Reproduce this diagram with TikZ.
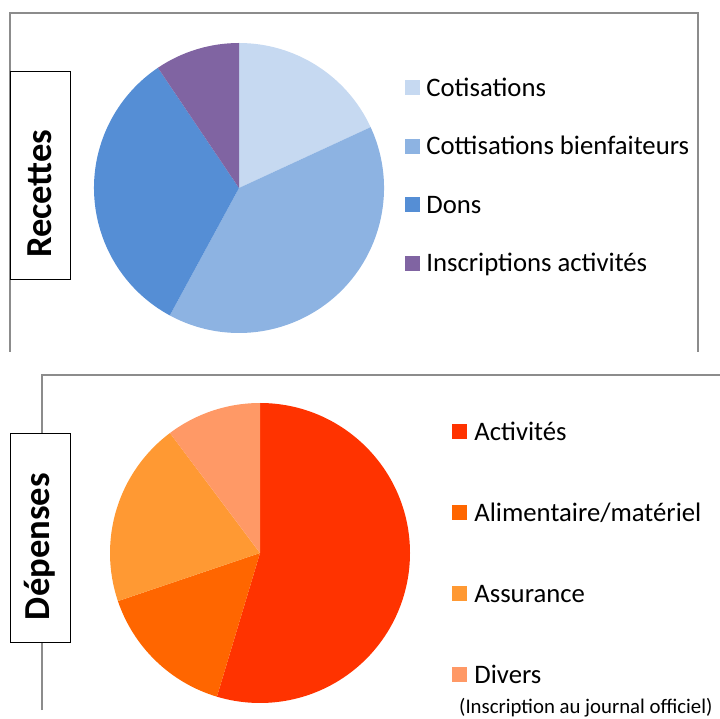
\documentclass[tikz,border=0pt]{standalone}
\usepackage{fontspec}
\setmainfont{Carlito}
\usetikzlibrary{positioning}

\definecolor{framegray}{HTML}{8C8C8C}
\definecolor{cctz}{HTML}{C6D9F1}
\definecolor{ccbf}{HTML}{8DB3E2}
\definecolor{cdns}{HTML}{558ED5}
\definecolor{cins}{HTML}{8064A2}
\definecolor{cact}{HTML}{FF3300}
\definecolor{cali}{HTML}{FF6600}
\definecolor{cass}{HTML}{FF9933}
\definecolor{cdiv}{HTML}{FF9966}

\begin{document}
\begin{tikzpicture} [
    x=1pt, y=1pt,
    node distance=43pt and 6pt, % legend spacing
    ]
% -------------------------------------------------
\tikzset{
  frame/.style={draw=framegray, line width=1.4pt},
  tag/.style={draw, fill=white, rotate=90, line width=1pt,
    inner xsep=22pt, inner ysep=0pt, text width=164pt, align=left,
    minimum height=60pt, font=\fontsize{36.6}{40}\selectfont\bfseries},
  key/.style={minimum size=15pt, inner sep=0pt},
  lbl/.style={inner sep=0pt, anchor=west, text height=17.2pt, text depth=0pt,
    font=\fontsize{26.7}{30}\selectfont}
}

    \useasboundingbox (0,0) rectangle (720,718);

    \draw[frame] (10,366) -- (10,705) -- (698,705) -- (698,366);   % top frame
    \draw[frame] (42,8) -- (42,343) -- (720,343);                  % bottom frame

    \node [tag] (rec) at (40,542) {Recettes};
    \node [tag] (dep) at (40,180) {Dépenses};

    % top pie
    \coordinate (tc) at (239,530);
    \fill[cctz] (tc) -- ++(90:145) arc[start angle=90, end angle=24.8, radius=145] -- cycle;
    \fill[ccbf] (tc) -- ++(24.8:145) arc[start angle=24.8, end angle=-118.5, radius=145] -- cycle;
    \fill[cdns] (tc) -- ++(-118.5:145) arc[start angle=-118.5, end angle=-236, radius=145] -- cycle;
    \fill[cins] (tc) -- ++(124:145) arc[start angle=124, end angle=90, radius=145] -- cycle;

    % bottom pie
    \coordinate (bc) at (260,165);
    \fill[cact] (bc) -- ++(90:150) arc[start angle=90, end angle=-106.7, radius=150] -- cycle;
    \fill[cali] (bc) -- ++(-106.7:150) arc[start angle=-106.7, end angle=-161.3, radius=150] -- cycle;
    \fill[cass] (bc) -- ++(198.7:150) arc[start angle=198.7, end angle=126.9, radius=150] -- cycle;
    \fill[cdiv] (bc) -- ++(126.9:150) arc[start angle=126.9, end angle=90, radius=150] -- cycle;

    % top legend
    \node [key, fill=cctz] (kctz) at (412.5,630) {};
    \node [key, fill=ccbf, below=of kctz] (kcbf) {};
    \node [key, fill=cdns, below=of kcbf] (kdns) {};
    \node [key, fill=cins, below=of kdns] (kins) {};
    \node [lbl, right=of kctz] (lctz) {Cotisations};
    \node [lbl, right=of kcbf] (lcbf) {Cottisations bienfaiteurs};
    \node [lbl, right=of kdns] (ldns) {Dons};
    \node [lbl, right=of kins] (lins) {Inscriptions activités};

    % bottom legend
    \node [key, fill=cact] (kact) at (459.5,286) {};
    \node [key, fill=cali, below=65.5pt of kact] (kali) {};
    \node [key, fill=cass, below=65.5pt of kali] (kass) {};
    \node [key, fill=cdiv, below=65.5pt of kass] (kdiv) {};
    \node [lbl, right=7pt of kact] (lact) {Activités};
    \node [lbl, right=7pt of kali] (lali) {Alimentaire/matériel};
    \node [lbl, right=7pt of kass] (lass) {Assurance};
    \node [lbl, right=7pt of kdiv] (ldiv) {Divers};
    \node [lbl, font=\fontsize{20.8}{24}\selectfont, text height=13.4pt] (note) at (459,11) {(Inscription au journal officiel)};

\end{tikzpicture}
\end{document}
